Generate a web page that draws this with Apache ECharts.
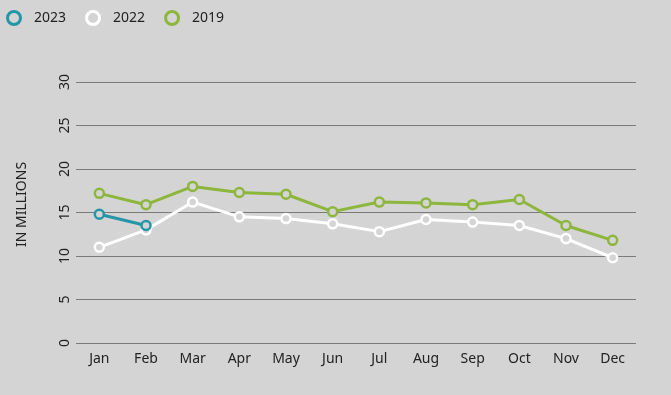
<!DOCTYPE html>
<html><head><meta charset="utf-8">
<script src="https://cdn.jsdelivr.net/npm/echarts@6/dist/echarts.min.js"></script>
<style>html,body{margin:0;padding:0;background:#d4d4d4}#c{width:671px;height:395px}</style>
</head><body><div id="c"></div>
<script>
const months = ['Jan','Feb','Mar','Apr','May','Jun','Jul','Aug','Sep','Oct','Nov','Dec'];
const s2023 = [14.8, 13.5];
const s2022 = [11.0, 13.0, 16.2, 14.5, 14.3, 13.7, 12.8, 14.2, 13.9, 13.5, 12.0, 9.8];
const s2019 = [17.2, 15.9, 18.0, 17.3, 17.1, 15.1, 16.2, 16.1, 15.9, 16.5, 13.5, 11.8];
const yTicks = [0, 5, 10, 15, 20, 25, 30];

const bg = '#d4d4d4';
function mk(name, data, c) {
  return {
    name, type: 'line', data,
    symbol: 'circle', symbolSize: 9,
    lineStyle: { color: c, width: 3 },
    itemStyle: { color: bg, borderColor: c, borderWidth: 2.5 },
    emphasis: { disabled: true }
  };
}
const chart = echarts.init(document.getElementById('c'));
chart.setOption({
  backgroundColor: bg,
  animation: false,
  textStyle: { fontFamily: 'Noto Sans' },
  legend: {
    left: 1, top: 5, icon: 'circle', itemWidth: 30, itemHeight: 13, itemGap: 19,
    itemStyle: { borderWidth: 3 },
    textStyle: { color: '#222', fontSize: 14, fontFamily: 'Noto Sans' },
    data: ['2023', '2022', '2019']
  },
  grid: { left: 76, right: 35, top: 82, bottom: 52 },
  xAxis: {
    type: 'category', data: months, boundaryGap: true,
    axisLine: { show: false }, axisTick: { show: false },
    axisLabel: { color: '#222', fontSize: 14, margin: 9 }
  },
  yAxis: {
    type: 'value', min: yTicks[0], max: yTicks[yTicks.length - 1], interval: 5,
    name: 'IN MILLIONS', nameLocation: 'middle', nameGap: 47,
    nameTextStyle: { color: '#222', fontSize: 14, padding: [0, 0, 0, 16] },
    axisLine: { show: false }, axisTick: { show: false },
    axisLabel: { color: '#222', fontSize: 14, rotate: 90, margin: 4 },
    splitLine: { lineStyle: { color: '#7a7a7a', width: 1 } }
  },
  series: [
    mk('2019', s2019, '#8db63c'),
    mk('2022', s2022, '#ffffff'),
    mk('2023', s2023, '#2596a8')
  ]
});
</script></body></html>
